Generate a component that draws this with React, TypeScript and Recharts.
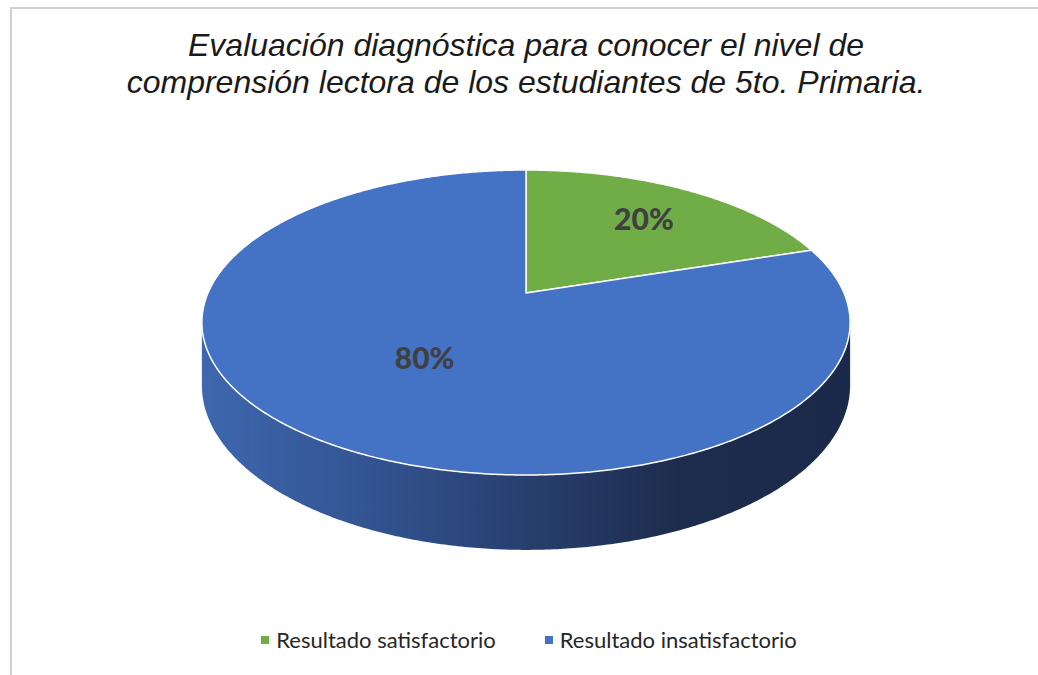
import React from "react";
import { PieChart, Pie, Cell, Legend } from "recharts";

const categories = ["Resultado satisfactorio", "Resultado insatisfactorio"];
const values = [20, 80];
const percentLabels = ["20%", "80%"];
const colors = ["#70AD47", "#4472C4"];

const data = categories.map((name, i) => ({ name, value: values[i] }));

// perspective parameters for faux-3D projection
const P = 0.1934; // perspective strength
const B_RATIO = 0.4616; // vertical squash
const D_RATIO = 0.19; // depth of side wall
const LABEL_FRAC = [0.7, 0.5];
const SIL1 = (Math.acos(-P) * 180) / Math.PI; // ~101
const SIL2 = 360 - SIL1;

function proj(cx: number, cy: number, a: number, thetaDeg: number, r: number, depth = 0) {
  const t = (thetaDeg * Math.PI) / 180;
  const X = r * Math.sin(t);
  const Z = r * Math.cos(t);
  const den = 1 + P * Z;
  return {
    x: cx + (a * X) / den,
    y: cy - (a * B_RATIO * Z) / den + (depth ? (a * D_RATIO) / den : 0),
  };
}

function arcPts(cx: number, cy: number, a: number, t1: number, t2: number, depth = 0) {
  const pts: { x: number; y: number }[] = [];
  const n = Math.max(2, Math.ceil(Math.abs(t2 - t1) / 0.5));
  for (let i = 0; i <= n; i++) {
    const t = t1 + ((t2 - t1) * i) / n;
    pts.push(proj(cx, cy, a, t, 1, depth));
  }
  return pts;
}

const Sector3D = (props: any) => {
  const { cx, cy, outerRadius, startAngle, endAngle, fill } = props;
  const ts = 90 - startAngle;
  const te = 90 - endAngle;
  const tA = Math.min(ts, te);
  const tB = Math.max(ts, te);
  const top = arcPts(cx, cy, outerRadius, tA, tB);
  const topPath =
    `M${cx},${cy} ` + top.map((p) => `L${p.x.toFixed(2)},${p.y.toFixed(2)}`).join(" ") + " Z";
  const w1 = Math.max(tA, SIL1);
  const w2 = Math.min(tB, SIL2);
  let wallPath = "";
  if (w1 < w2) {
    const up = arcPts(cx, cy, outerRadius, w1, w2);
    const down = arcPts(cx, cy, outerRadius, w2, w1, 1);
    wallPath =
      up.map((p, i) => `${i === 0 ? "M" : "L"}${p.x.toFixed(2)},${p.y.toFixed(2)}`).join(" ") +
      " " +
      down.map((p) => `L${p.x.toFixed(2)},${p.y.toFixed(2)}`).join(" ") +
      " Z";
  }
  const gid = `wallGrad-${props.index ?? 0}`;
  return (
    <g>
      <defs>
        <linearGradient id={gid} gradientUnits="userSpaceOnUse" x1={cx - outerRadius * 1.02} y1={0} x2={cx + outerRadius * 1.02} y2={0}>
          <stop offset="0%" stopColor="#3e67af" />
          <stop offset="27%" stopColor="#32538f" />
          <stop offset="50%" stopColor="#283f6e" />
          <stop offset="74%" stopColor="#1d2c4d" />
          <stop offset="100%" stopColor="#1b2a4a" />
        </linearGradient>
      </defs>
      {wallPath && <path d={wallPath} fill={`url(#${gid})`} stroke="none" />}
      <path d={topPath} fill={fill} stroke="#ffffff" strokeWidth={1.5} strokeLinejoin="round" />
    </g>
  );
};

const renderLabel = (props: any) => {
  const { cx, cy, midAngle, outerRadius, index } = props;
  const p = proj(cx, cy, outerRadius, 90 - midAngle, LABEL_FRAC[index]);
  return (
    <text
      x={p.x}
      y={p.y}
      textAnchor="middle"
      dominantBaseline="central"
      fill="#404040"
      fontFamily="Lato, 'Open Sans', sans-serif"
      fontWeight={900}
      fontSize={30}
    >
      {percentLabels[index]}
    </text>
  );
};

const renderLegend = (props: any) => {
  const payload: any[] = [...(props.payload || [])];
  payload.sort((a, b) => categories.indexOf(a.value) - categories.indexOf(b.value));
  return (
    <div style={{ display: "flex", justifyContent: "center", gap: 49, fontFamily: "Lato, sans-serif", fontSize: 22, color: "#262626" }}>
      {payload.map((entry: any, i: number) => (
        <div key={i} style={{ display: "flex", alignItems: "center" }}>
          <span style={{ display: "inline-block", width: 8, height: 8, background: entry.color, marginRight: 7 }} />
          <span>{entry.value}</span>
        </div>
      ))}
    </div>
  );
};

export default function App() {
  return (
    <div style={{ position: "absolute", left: 0, top: 0, width: 1038, height: 675, background: "#fff", overflow: "hidden" }}>
      <div style={{ position: "absolute", left: 10, top: 7, width: 1028, height: 1.5, background: "#d0d0d0" }} />
      <div style={{ position: "absolute", left: 10, top: 7, width: 1.5, height: 668, background: "#d0d0d0" }} />
      <div
        style={{
          position: "absolute",
          left: 0,
          top: 27,
          width: 1052,
          textAlign: "center",
          fontFamily: "'Liberation Sans', Arial, sans-serif",
          fontStyle: "italic",
          fontSize: 32,
          lineHeight: "37px",
          color: "#1a1a1a",
        }}
      >
        Evaluación diagnóstica para conocer el nivel de
        <br />
        comprensión lectora de los estudiantes de 5to. Primaria.
      </div>
      <div style={{ position: "absolute", left: 0, top: 0 }}>
        <PieChart width={1038} height={675} margin={{ top: 0, right: 0, bottom: 0, left: 0 }}>
          <Pie
            data={data}
            dataKey="value"
            nameKey="name"
            cx={526}
            cy={293}
            outerRadius={318}
            startAngle={90}
            endAngle={-270}
            isAnimationActive={false}
            shape={Sector3D}
            inactiveShape={Sector3D}
            activeShape={Sector3D}
            label={renderLabel}
            labelLine={false}
            legendType="square"
          >
            {data.map((d, i) => (
              <Cell key={d.name} fill={colors[i]} />
            ))}
          </Pie>
          <Legend
            content={renderLegend}
            verticalAlign="middle"
            layout="horizontal"
            wrapperStyle={{ position: "absolute", top: 626, left: 10, width: 1038 }}
          />
        </PieChart>
      </div>
    </div>
  );
}
